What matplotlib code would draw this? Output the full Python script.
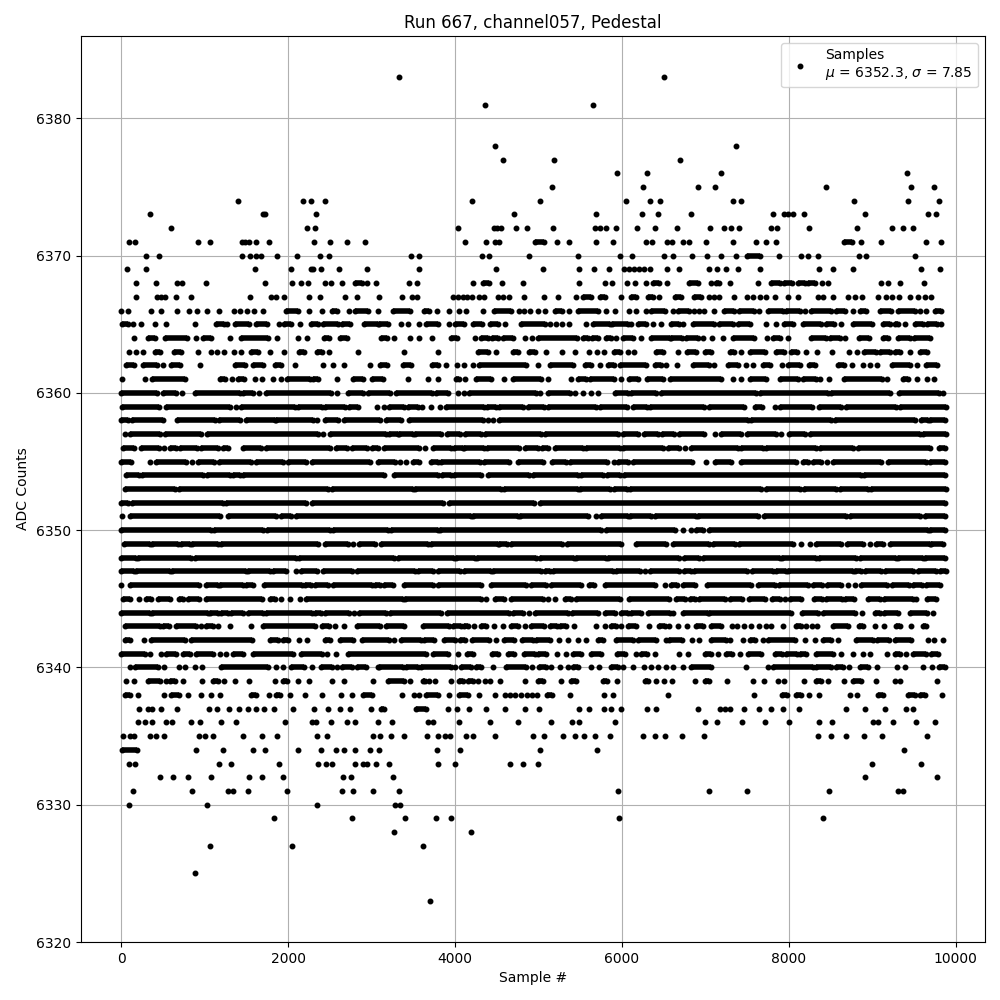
#Import packages
import matplotlib
matplotlib.use('Agg')
import matplotlib.pyplot as plt

#Values, one list per ADC level.
#A plain number is a single sample, a tuple is a run of samples whose dots touch.
adc_6383 = [3330, 6500]
adc_6381 = [4360, 5650]
adc_6378 = [4480, 7361]
adc_6377 = [4570, 5189, 6701]
adc_6376 = [5945, 6305, 7181, 9413]
adc_6375 = [5165, 6257, 6917, 7109, 8441, 9461, 9737]
adc_6374 = [1394, 2174, 2270, 2438, 4202, 5021, 6053, 6341, 6461, 7325, 7421, 8777, 9425, 9797]
adc_6373 = [350, 1698, 1722, 2330, 4706, 5693, 6245, 6437, 6833, 7805, 7937, 7985, 8045, 8177, 8909, 9665, 9761]
adc_6372 = [602, 2222, 2318, 4034, 4466, 4506, 4546, 4730, 4862, 5177, 5681, 5741, 5813, 5933, 6185, 6401, 6665,
            7049, 7217, 7301, 7397, 7781, 7853, 8237, 8813, 9241, 9365, 9485]
adc_6371 = [98, 166, 914, 1058, 1446, 1486, 1526, 1610, 1766, 2306, 2498, 2702, 2918, 4118, 4370, 4478, 4526,
            (4953, 5069), 5225, 5369, 5693, 5897, 6285, 6357, 6537, 6597, 6737, 6809, 7001, 7325, 7601, 7721, 7841,
            (8657, 8757), 8861, 9101, 9641, 9821]
adc_6370 = [302, 458, 1442, 1538, 1610, 1674, 1870, 2102, 2378, 2486, 3470, 3566, 4322, 4406, 4886, 5477, 5981,
            6125, 6509, 6617, 6837, 7013, 7181, 7361, (7497, 7657), 7877, 8141, 8225, 8345, 8837, 8921, 9509]
adc_6369 = [74, 302, 1598, 2030, 2270, 2294, 2390, 2606, 2942, 3566, 4490, 5057, 5489, 5669, 5849, 6029, 6089,
            6149, 6209, 6269, 6341, 6545, 6689, 7037, 7133, 7241, 7385, 7649, 8357, 8525, 8765, 9581, 9809]
adc_6368 = [172, 420, 668, 732, 1016, 1724, 2048, 2156, 2240, 2440, 2508, 2648, (2800, 2880), 2948, 3052, 3444,
            3540, 4212, (4332, 4412), 4568, 4812, 5484, 5796, 5880, 6060, 6152, 6284, (6372, 6444), 6540,
            (6800, 6908), 7064, (7128, 7160), 7296, 7628, (7788, 7888), (7936, 8032), (8108, 8188), (8228, 8308),
            8396, 8468, 9108, 9192, 9332, 9620]
adc_6367 = [172, 428, 476, 520, 656, 836, 1544, 1800, 1860, 1952, 2252, 2384, 2684, 2828, 3092, 3360, 3484, 3540,
            3972, 4032, 4092, 4140, 4200, 4292, 4352, 4512, 4580, 4652, 4824, 5064, 5232, 5452, (5532, 5632),
            (5732, 5792), 5992, (6112, 6172), (6312, 6372), 6444, (6640, 6708), (6868, 6948), 7048, 7108, 7160,
            7348, 7496, 7568, 7648, 7728, 7828, 7988, 8108, 8348, 8408, 8528, 8708, 8788, 8880, 9068, 9168, 9236,
            9320, 9448, 9548, 9628, 9708]
adc_6366 = [0, 84, 356, 480, 668, 812, 908, 1028, 1172, 1352, 1428, 1508, 1588, 1700, (1980, 2120), 2244, 2400,
            (2520, 2588), 2724, (2800, 2960), 3080, (3260, 3460), (3632, 3692), 3784, 3932, 4044, 4132, 4340,
            (4472, 4672), 4772, 4824, 4900, 4992, 5080, (5192, 5284), 5364, (5472, 5712), 5812, 5912, 6084, 6172,
            6284, (6352, 6512), 6608, (6668, 6808), 6868, 6928, 6988, 7108, (7228, 7348), (7408, 7588), 7640,
            (7748, 7928), (7968, 8128), 8196, (8268, 8508), (8568, 8668), 8768, (8848, 8920), (9088, 9228),
            (9308, 9508), 9568, 9648, (9748, 9828)]
adc_6365 = [(8, 80), 140, 236, 404, 536, 884, (1140, 1228), 1268, (1360, 1532), (1612, 1748), 1892, (1948, 2040),
            2148, (2268, 2360), (2420, 2600), (2640, 2740), (2908, 3080), (3092, 3192), 3352, 3432, 3564,
            (3652, 3792), 3932, (4004, 4112), (4212, 4324), (4420, 4512), 4596, (4792, 5072), 5140, 5212, 5284,
            5364, 5572, (5652, 5852), (5884, 6072), 6112, (6192, 6284), 6372, 6472, (6588, 6680), 6736,
            (6848, 7108), (7168, 7328), (7388, 7540), 7720, 7844, (7936, 8048), (8168, 8388), (8448, 8536), 8628,
            (8768, 8992), (9128, 9208), (9268, 9308), 9388, (9508, 9608), (9660, 9776), 9828]
adc_6364 = [152, (320, 400), (520, 788), 896, (980, 1080), 1308, (1440, 1760), 1872, 2120, 2228, (2428, 2492),
            (2620, 2700), (3112, 3180), 3264, 3456, 3572, 3720, (3952, 4020), 4240, (4312, 4392), (4444, 4512),
            (4572, 4692), 4840, 4920, (4992, 5460), (5532, 5592), (5644, 5712), (5812, 5872), 5932, (6012, 6132),
            6232, (6352, 6572), (6588, 6720), (6768, 6908), 6968, 7076, 7208, (7328, 7588), 7736, (7808, 7896),
            7988, (8268, 8448), (8488, 8608), 8672, (8836, 8960), (9128, 9188), (9308, 9448), (9496, 9688)]
adc_6363 = [92, 172, 260, (400, 468), (628, 712), 920, 1072, 1148, 1232, 1352, 1436, (1560, 1640), 1784, 1952,
            (2132, 2188), (2340, 2400), 2492, 2840, 3384, 3792, (4280, 4392), 4488, (4692, 4760), (4892, 4952),
            5088, 5280, 5436, 5604, 5704, 5784, (5904, 5972), 6072, 6144, (6404, 6492), 6668, (6776, 6888),
            (6996, 7068), (7296, 7348), 7428, (7536, 7708), (7848, 7936), (8020, 8096), 8204, 8336, 8516, 8720,
            8816, (8896, 9048), (9096, 9208), (9268, 9336), 9448, (9568, 9656)]
adc_6362 = [(60, 148), (260, 428), 500, (600, 700), 948, (1360, 1488), (1580, 1700), (1840, 1920), 2084, 2420,
            2540, 2672, 2984, (3100, 3180), (3372, 3472), (3724, 3792), 3892, 4020, 4104, 4212, (4292, 4852), 4996,
            (5132, 5412), (5552, 5632), 5732, (5832, 5900), (5980, 6292), (6392, 6472), 6532, 6656, (6848, 7040),
            7108, (7268, 7388), 7488, 7568, (7688, 7776), 7916, (7988, 8128), (8240, 8308), (8588, 8656), 8756,
            8888, 8968, 9056, (9240, 9456), 9540, (9640, 9776)]
adc_6361 = [8, 280, (372, 760), (1180, 1248), 1324, (1400, 1468), 1608, 1688, 1820, 1920, (1988, 2260),
            (2300, 2360), 2588, (2772, 2900), (3000, 3132), 3432, 3672, 3800, (4012, 4052), 4124, (4252, 4432),
            4592, (4692, 5032), 5112, 5388, (5472, 5564), (5612, 5900), 5992, (6084, 6192), (6300, 6492),
            (6576, 7188), 7336, 7428, (7536, 7728), (7888, 8108), (8168, 8328), 8376, 8480, (8660, 9120), 9176,
            (9368, 9428), 9532, 9656, 9740]
adc_6360 = [(0, 428), (500, 652), 728, (884, 1420), (1460, 1580), 1652, (1732, 2508), 2584, (2720, 2900),
            (2960, 3220), (3292, 3724), (3772, 3912), 4032, 4104, (4172, 4972), 5012, (5112, 5372), 5432, 5532,
            5632, 5712, (5920, 6072), (6112, 6412), (6472, 7608), (7648, 8468), (8508, 9208), (9320, 9800), 9848]
adc_6359 = [(12, 452), (540, 1308), 1372, (1440, 2080), (2120, 2400), (2440, 2680), (2732, 2840), 3060, 3148,
            (3212, 3392), (3432, 3552), 3604, 3712, 3820, (3892, 4352), (4384, 4492), (4532, 4812), (4872, 5060),
            (5112, 5692), (5732, 6060), (6132, 6300), (6332, 6988), (7040, 7468), (7600, 7680), 7832, (7896, 8280),
            (8360, 8628), (8680, 9288), (9328, 9888)]
adc_6358 = [(0, 80), (132, 500), (668, 1120), (1172, 1420), (1492, 1840), (1860, 2300), 2340, (2440, 2600),
            (2668, 3100), (3172, 3352), (3444, 4332), 4392, 4460, (4524, 7508), (7548, 8508), (8548, 9508),
            (9588, 9668), (9696, 9868)]
adc_6357 = [48, (100, 468), (520, 960), (1028, 2360), 2420, (2500, 3172), (3212, 3312), (3332, 3492), (3524, 3832),
            (3900, 4060), (4124, 4312), (4364, 5032), (5072, 5952), (6012, 6192), (6260, 6432), (6484, 6628),
            (6688, 6988), 7120, (7188, 7428), (7496, 7840), 7908, (8000, 8188), (8248, 9568), (9608, 9888)]
adc_6356 = [(20, 148), (240, 452), 508, (580, 660), (708, 908), (960, 1160), (1220, 1280), (1460, 1680),
            (1732, 2500), (2572, 2708), (2760, 2948), (3000, 3080), (3152, 3572), 3644, (3732, 3952), (3992, 4092),
            (4112, 4352), (4380, 4772), (4844, 4992), (5044, 5112), (5192, 5532), (5564, 5972), (6012, 6492),
            (6548, 6688), 6760, (6828, 7388), (7428, 7688), (7728, 8328), (8368, 8768), (8828, 9688), (9800, 9868)]
adc_6355 = [(0, 120), 340, (412, 780), 852, (920, 1108), (1172, 1560), (1620, 1940), (2000, 2220), (2280, 2980),
            (3072, 3284), 3340, 3412, (3492, 3564), (3712, 3792), (3832, 4300), (4352, 4644), (4760, 5052),
            (5164, 5332), (5380, 5820), 5904, (5952, 6072), (6132, 6840), 7008, (7120, 7308), (7428, 8080),
            (8168, 8228), (8288, 8388), 8456, (8528, 9108), (9188, 9648), (9688, 9868)]
adc_6354 = [(52, 212), (252, 980), (1028, 1300), (1340, 1420), (1460, 3152), (3272, 3792), (3844, 3952), (3992, 4312),
            (4392, 4892), (4932, 5472), (5512, 5772), (5820, 5972), (6020, 8868), (8896, 9868)]
adc_6353 = [(40, 640), (692, 2480), (2520, 3492), (3524, 4552), (4592, 5472), (5500, 5860), (5904, 6060),
            (6092, 7668), (7720, 8128), (8176, 8568), (8616, 8948), (8988, 9888)]
adc_6352 = [(0, 80), (132, 1220), (1260, 2220), (2280, 3860), (3932, 4940), (5012, 9868)]
adc_6351 = [12, (108, 1180), (1280, 1860), (1920, 2040), (2100, 4192), (4220, 4752), (4780, 5592), 5684,
            (5752, 6072), (6092, 6352), (6392, 6888), (6908, 7628), (7696, 8688), (8728, 9568), (9628, 9868)]
adc_6350 = [(0, 1080), (1108, 1700), (1748, 2500), (2540, 3192), (3232, 3792), (3820, 5752), (5804, 6640), 6736,
            6828, (6888, 6968), (7048, 9668), (9688, 9868)]
adc_6349 = [(28, 340), (372, 680), (720, 820), (852, 1160), (1200, 2360), (2440, 2720), 2780, (2852, 3040), (3112, 3672),
            (3712, 4512), (4532, 4620), (4672, 5284), (5340, 5992), (6172, 6532), (6608, 7048), (7088, 7360),
            (7400, 8048), 8148, 8248, (8320, 8628), (8696, 8888), 8968, (9048, 9128), (9208, 9688), (9708, 9848)]
adc_6348 = [(0, 172), (200, 840), (880, 2100), (2132, 3272), (3312, 3992), (4012, 4244), (4260, 4964), (5012, 5420),
            (5452, 5812), (5832, 6680), (6748, 6928), (6968, 7888), (7920, 8328), (8360, 8808), (8848, 9280),
            (9308, 9608), (9636, 9868)]
adc_6347 = [(0, 148), (180, 580), (612, 1492), (1520, 1780), (1820, 1980), 2100, (2160, 2340), (2412, 2760),
            (2820, 3524), (3552, 3732), (3792, 4060), (4104, 4432), (4452, 5032), (5072, 5132), (5172, 5892),
            (5924, 6212), 6272, (6332, 6688), (6748, 6828), (6868, 7496), (7560, 7808), (7848, 7960), (7988, 8768),
            (8788, 8868), (8908, 9108), (9148, 9488), (9548, 9768), (9808, 9888)]
adc_6346 = [0, (100, 930), (1012, 1160), (1188, 1460), (1492, 1580), (1708, 2172), (2200, 2268), (2320, 2480),
            (2540, 3000), (3040, 3100), (3152, 3260), (3392, 3732), (3792, 4312), (4432, 4852), (4912, 5092),
            (5152, 5512), (5604, 5660), (5792, 6392), 6512, (6588, 6656), (6736, 6880), (7016, 7548), (7628, 7828),
            (7880, 8228), (8288, 8400), (8456, 8628), 8708, 8788, (8868, 9176), (9236, 9440), (9488, 9600),
            (9648, 9808)]
adc_6345 = [(20, 108), 212, (292, 360), (440, 588), (692, 740), (800, 932), (1012, 1692), (1780, 1840), 1920, 2028,
            2140, (2212, 3372), (3404, 4312), 4372, (4484, 4592), (4672, 5052), 5112, 5200, (5312, 5392),
            (5444, 5972), (6084, 6568), (6648, 6760), (6816, 6880), (6928, 7240), (7296, 7440), (7528, 7708),
            (7800, 7888), 7948, (8008, 8148), (8296, 8400), (8448, 8640), (8668, 8776), (8948, 9088), (9136, 9488),
            9528, (9656, 9760)]
adc_6344 = [(0, 340), (372, 1040), (1068, 1160), (1200, 1280), (1320, 1460), (1520, 1700), (1732, 2280),
            (2320, 2388), (2440, 2732), 2788, (2852, 3172), (3220, 3832), (3900, 4644), (4692, 4820), 4892,
            (4952, 5352), (5404, 5712), (5792, 5912), (5992, 6072), (6112, 6232), (6312, 6572), 6608, (6736, 7028),
            (7048, 8028), (8160, 8348), (8408, 8788), 8880, (9028, 9096), (9136, 9308), (9448, 9656), 9728]
adc_6343 = [(40, 460), (500, 572), (660, 892), 960, (1020, 1100), 1160, 1304, 1556, (1700, 2320), (2400, 2492), 2560,
            2672, (2820, 3100), (3172, 3392), (3612, 3932), (3972, 4072), (4112, 4152), 4232, (4312, 4372), 4464,
            4580, (4672, 4752), 4844, (4912, 5060), (5132, 5220), (5260, 5332), 5420, 5692, 5796, (5872, 5932), 5992,
            (6072, 6172), 6324, (6444, 6512), 6560, 6668, 6776, (6888, 6968), (7068, 7188), 7316, 7376, 7468, 7548,
            7640, 7728, 7788, 7928, (8080, 8148), 8208, 8280, 8340, (8528, 8708), (8840, 8888), 9028, 9140,
            (9288, 9336), 9468, (9608, 9648)]
adc_6342 = [(40, 100), 272, (360, 760), (840, 1572), (1780, 1880), (1940, 2000), 2132, 2228, (2440, 2500),
            (2620, 2780), (2880, 3212), 3272, (3352, 3592), (3632, 3752), (3872, 4004), (4060, 4124), (4204, 4412),
            4492, (4592, 4712), (4804, 4932), (4972, 5132), 5244, 5356, 5472, 5572, (5712, 5772), (5924, 6132),
            (6192, 6412), 6524, (6568, 6720), 6836, 6920, (7068, 7248), 7296, 7448, (7536, 7600), 7688, (7748, 8068),
            8192, 8312, (8408, 8508), 8592, (8808, 9008), (9056, 9200), (9268, 9468), 9668, 9740, 9848]
adc_6341 = [(0, 280), 344, 480, (532, 660), (740, 828), (892, 1100), 1180, 1260, (1340, 1460), (1580, 2060),
            (2160, 2400), 2460, 2572, (2720, 3652), (3732, 3912), 4032, (4140, 4212), (4440, 4512), (4632, 4712),
            (4832, 4952), (4992, 5092), 5220, 5332, (5412, 5512), (5632, 5752), (5940, 6032), 6172, (6232, 6300), 6392,
            6680, 6788, (7000, 7068), 7148, (7248, 7320), 7416, (7508, 7668), (7828, 7920), (7968, 8096), (8136, 8200),
            (8320, 8528), 8624, 8768, 8888, 8972, 9176, (9268, 9328), 9400, (9488, 9648), (9708, 9788)]
adc_6340 = [100, (160, 444), 512, 692, 768, 884, 968, (1200, 1760), 1852, 1940, (2040, 2188), 2280, (2388, 2520),
            2580, (2640, 2760), (2820, 2932), 3080, (3092, 3372), (3412, 3552), (3592, 3952), 4004, (4072, 4192),
            (4252, 4312), 4452, (4612, 4852), 4920, (5004, 5092), 5152, 5252, 5352, (5412, 5472), 5632, 5724,
            (5872, 5952), 6012, 6132, 6264, 6352, 6432, 6524, 6608, 6736, (6828, 7068), 7488, 7748, (7808, 8288),
            (8328, 8508), (8568, 8648), 8720, (8848, 8948), 9056, 9296, 9388, 9608, 9716, (9800, 9868)]
adc_6339 = [56, 152, (320, 460), 532, (588, 640), 740, 968, (1100, 1160), 1232, 1364, 1532, 1844, (1940, 1988), 2120,
            2252, 2520, 2672, 3020, (3192, 3392), 3460, (3612, 3644), 3684, 3764, 3952, (4052, 4092), (4152, 4212),
            4280, 4360, 4420, 4540, 4836, (4992, 5052), 5268, (5392, 5452), (5772, 5820), 5940, (6272, 6312), 6412,
            6504, 6596, 6872, (7000, 7048), 7256, 7568, 7700, 7868, 7940, 8180, (8328, 8388), 8468, 8660,
            (8768, 8868), 9044, 9272, 9336, 9776]
adc_6338 = [(40, 100), 200, 512, (600, 692), 800, 956, 1080, 1188, (1560, 1620), 1772, (1860, 1900), 2024, 2204,
            2408, 2628, 2768, (2900, 3000), 3360, 3504, 3572, (3652, 3792), 3924, (4044, 4152), 4284, 4476, 4604, 4664,
            4720, 4792, 4864, 4924, 4984, (5104, 5164), 5376, 5784, 5892, 6552, 7580, (7916, 7976), (8080, 8148),
            8240, 8360, 8728, 8816, (9068, 9128), (9428, 9508), (9568, 9628), 9840]
adc_6337 = [212, 320, 372, 480, 668, 1052, 1148, 1292, 1412, 1520, 1616, 1712, 1832, 2060, 2312, 2480, 2624, 2744,
            2996, (3112, 3152), (3532, 3652), 3912, 4020, 4164, 4372, 4604, 4836, 5004, 5484, 5604, 5784, 5872, 5988,
            6300, 6408, 6916, 7176, 7236, 7296, 7468, 7640, 7788, 7932, 8120, 8684, 8912, 9148, 9408, 9488]
adc_6336 = [200, 288, 368, 540, 608, 832, 944, 1200, 1376, 1964, 2284, 2336, 2516, 2700, 2800, 3080, 3240, 3680, 3732,
            4044, 4416, 4752, 5148, 5400, 5484, 5916, 6992, 7136, 7436, 7712, 8000, 8360, 8516, 9008, 9068, 9248,
            9520, 9752]
adc_6335 = [20, 108, 152, 344, 416, 512, 932, 1004, 1100, 1460, 1688, 1868, 2348, 2460, 3020, 3096, 3228, 3384, 3660,
            3792, 3876, 3936, 4128, 4216, 4476, 4932, 5064, 5292, 5436, 5544, 5672, 5856, 6252, 6392, 6516, 6716,
            6980, 8348, 8504, 8684, 8900, 9116, 9656]
adc_6334 = [(8, 188), 896, 1220, 1580, 1724, 2120, 2396, 2576, 2672, 2804, 2984, 3088, 3780, 4056, 5016, 5700, 9380]
adc_6333 = [92, 164, 1172, 1316, 1892, 2360, 2452, 2520, 2800, 2900, 2948, 3056, 3204, 3792, 3996, 4656, 4812, 4992,
            9000, 9584]
adc_6332 = [464, 620, 800, 1076, 1532, 1688, 1940, 2660, 2756, 3252, 8912, 9776]
adc_6331 = [140, 848, 1280, 1340, 1520, 1988, 2648, 2780, 3020, 3324, 5952, 7040, 7496, 8480, 9308, 9368]
adc_6330 = [92, 1028, 2348, 3284, 3340]
adc_6329 = [1832, 2768, 3396, 3768, 3948, 5964, 8408]
adc_6328 = [3264, 4188]
adc_6327 = [1064, 2048, 3612]
adc_6325 = [885]
adc_6323 = [3700]

rows = [(6383, adc_6383), (6381, adc_6381), (6378, adc_6378), (6377, adc_6377), (6376, adc_6376), (6375, adc_6375),
        (6374, adc_6374), (6373, adc_6373), (6372, adc_6372), (6371, adc_6371), (6370, adc_6370), (6369, adc_6369),
        (6368, adc_6368), (6367, adc_6367), (6366, adc_6366), (6365, adc_6365), (6364, adc_6364), (6363, adc_6363),
        (6362, adc_6362), (6361, adc_6361), (6360, adc_6360), (6359, adc_6359), (6358, adc_6358), (6357, adc_6357),
        (6356, adc_6356), (6355, adc_6355), (6354, adc_6354), (6353, adc_6353), (6352, adc_6352), (6351, adc_6351),
        (6350, adc_6350), (6349, adc_6349), (6348, adc_6348), (6347, adc_6347), (6346, adc_6346), (6345, adc_6345),
        (6344, adc_6344), (6343, adc_6343), (6342, adc_6342), (6341, adc_6341), (6340, adc_6340), (6339, adc_6339),
        (6338, adc_6338), (6337, adc_6337), (6336, adc_6336), (6335, adc_6335), (6334, adc_6334), (6333, adc_6333),
        (6332, adc_6332), (6331, adc_6331), (6330, adc_6330), (6329, adc_6329), (6328, adc_6328), (6327, adc_6327),
        (6325, adc_6325), (6323, adc_6323)]

title = 'Run 667, channel057, Pedestal'
legend_label = 'Samples\n$\\mu$ = 6352.3, $\\sigma$ = 7.85'

#Split rows into dots and touching runs
dot_x, dot_y = [], []
run_y, run_start, run_end = [], [], []
for level, items in rows:
    for item in items:
        if isinstance(item, tuple):
            dot_x += list(item)
            dot_y += [level, level]
            run_y.append(level)
            run_start.append(item[0])
            run_end.append(item[1])
        else:
            dot_x.append(item)
            dot_y.append(level)

#Figure
fig, ax = plt.subplots(figsize=(10, 10), dpi=100)
ax.hlines(run_y, run_start, run_end, colors='k', linewidth=4, zorder=2)
ax.plot(dot_x, dot_y, 'k.', markersize=6.5, label=legend_label)

ax.set_xlim(-482, 10350)
ax.set_ylim(6320, 6386)
ax.set_xticks([0, 2000, 4000, 6000, 8000, 10000])
ax.set_xlabel('Sample #')
ax.set_ylabel('ADC Counts')
ax.set_title(title)
ax.grid(True)
ax.legend(loc='upper right')

fig.subplots_adjust(left=0.081, right=0.985, top=0.964, bottom=0.058)
fig.savefig('out.png')
